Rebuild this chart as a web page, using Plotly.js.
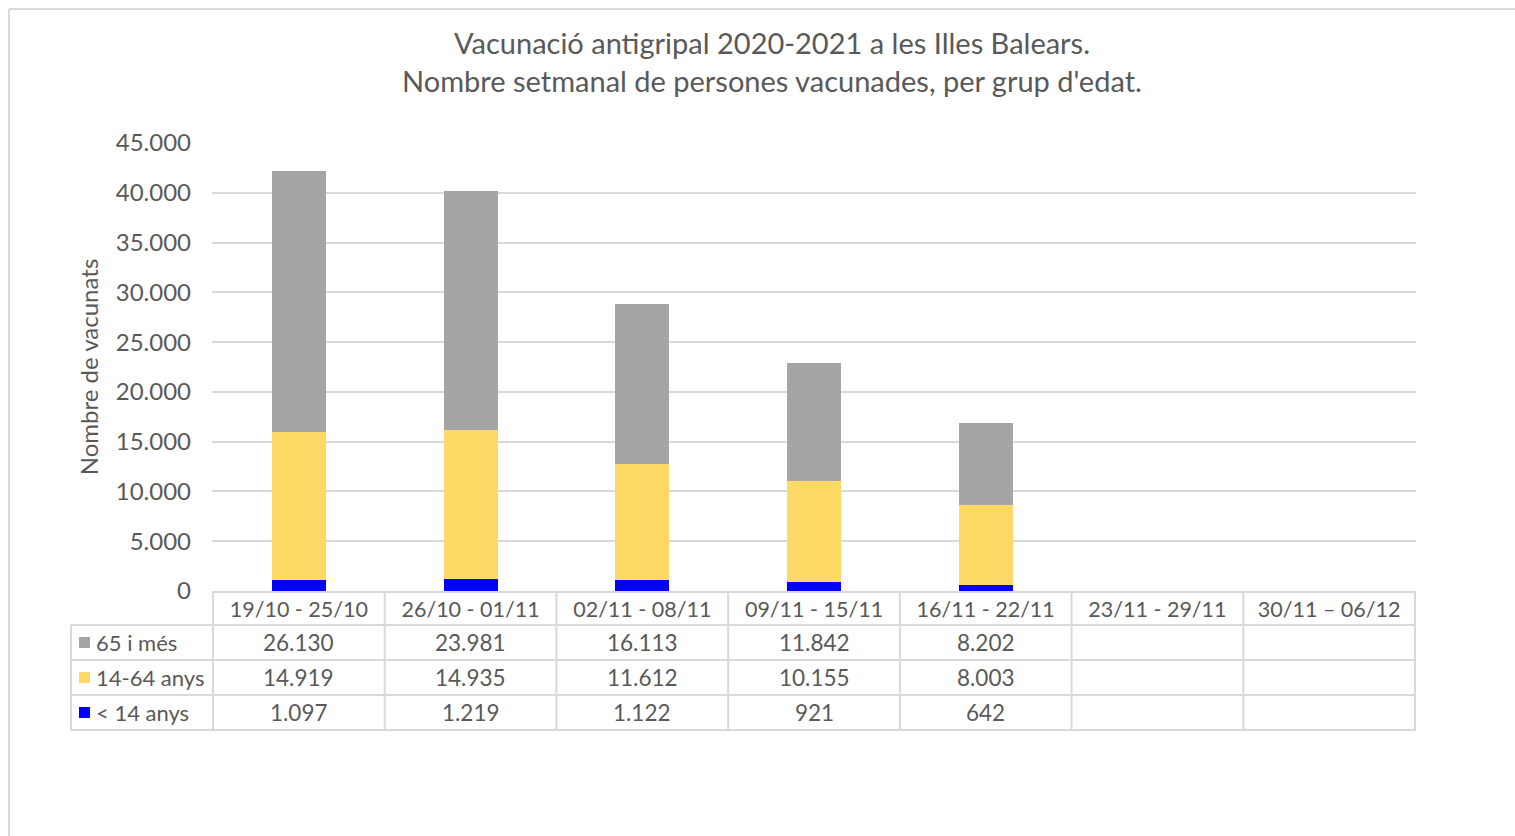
<!DOCTYPE html>
<html>
<head>
<meta charset="utf-8">
<script src="https://cdn.plot.ly/plotly-3.0.1.min.js"></script>
<style>
  body { margin: 0; background: #fff; }
  #chart { width: 1515px; height: 836px; }
</style>
</head>
<body>
<div id="chart"></div>
<script>
// weekly flu vaccinations, Illes Balears 2020-2021
var weeks = ['19/10 - 25/10', '26/10 - 01/11', '02/11 - 08/11', '09/11 - 15/11',
             '16/11 - 22/11', '23/11 - 29/11', '30/11 \u2013 06/12'];
var over65 = [26130, 23981, 16113, 11842, 8202, null, null];
var age14to64 = [14919, 14935, 11612, 10155, 8003, null, null];
var under14 = [1097, 1219, 1122, 921, 642, null, null];

var seriesNames = ['65 i més', '14-64 anys', '< 14 anys'];
var seriesColors = ['#a5a5a5', '#ffd966', '#0000ff'];
var seriesValues = [over65, age14to64, under14];

var txt = '#595959';
var lineCol = '#d9d9d9';
var fontFam = 'Lato, "Open Sans", sans-serif';

function fmt(v){
    if (v === null) return '';
    return String(v).replace(/\B(?=(\d{3})+(?!\d))/g, '.');
}

// bars, stacked bottom to top: <14, 14-64, 65+
var traces = [];
for (var s = seriesValues.length - 1; s >= 0; s--) {
    traces.push({
        x: weeks,
        y: seriesValues[s],
        name: seriesNames[s],
        type: 'bar',
        marker: {color: seriesColors[s]},
        hoverinfo: 'name+y'
    });
}

// data table under the plot (pixel rows converted to paper units)
var plotTop = 143, plotBottom = 591, plotLeft = 212, plotRight = 1416;
var ph = plotBottom - plotTop, pw = plotRight - plotLeft;
function py(Y){ return (plotBottom - Y) / ph; }
function px(X){ return (X - plotLeft) / pw; }

var rowTop = 625, rowH = 35, tableLeft = 71;
var shapes = [];
var annotations = [];

// horizontal lines of the table
for (var r = 0; r <= seriesNames.length; r++) {
    shapes.push({type: 'line', xref: 'paper', yref: 'paper',
        x0: px(tableLeft), x1: 1, y0: py(rowTop + r * rowH), y1: py(rowTop + r * rowH),
        line: {color: lineCol, width: 2}});
}
// vertical lines of the table
for (var i = 0; i <= weeks.length; i++) {
    shapes.push({type: 'line', xref: 'x', yref: 'paper',
        x0: i - 0.5, x1: i - 0.5, y0: 0, y1: py(rowTop + seriesNames.length * rowH),
        line: {color: lineCol, width: 2}});
}
shapes.push({type: 'line', xref: 'paper', yref: 'paper',
    x0: px(tableLeft), x1: px(tableLeft), y0: py(rowTop), y1: py(rowTop + seriesNames.length * rowH),
    line: {color: lineCol, width: 2}});

// legend keys + values
for (var s = 0; s < seriesNames.length; s++) {
    var yc = rowTop + s * rowH + rowH / 2;
    shapes.push({type: 'rect', xref: 'paper', yref: 'paper',
        x0: px(79), x1: px(90), y0: py(yc - 5.5), y1: py(yc + 5.5),
        fillcolor: seriesColors[s], line: {width: 0}});
    annotations.push({xref: 'paper', yref: 'paper', x: px(94), y: py(yc),
        xanchor: 'left', yanchor: 'middle', showarrow: false,
        text: seriesNames[s], font: {family: fontFam, size: 22, color: txt}});
    for (var i = 0; i < weeks.length; i++) {
        annotations.push({xref: 'x', yref: 'paper', x: weeks[i], y: py(yc),
            xanchor: 'center', yanchor: 'middle', showarrow: false,
            text: fmt(seriesValues[s][i]), font: {family: fontFam, size: 22.5, color: txt}});
    }
}

// outer frame of the picture
shapes.push({type: 'line', xref: 'paper', yref: 'paper',
    x0: px(9), x1: px(1520), y0: py(9), y1: py(9), line: {color: lineCol, width: 2}});
shapes.push({type: 'line', xref: 'paper', yref: 'paper',
    x0: px(9), x1: px(9), y0: py(9), y1: py(840), line: {color: lineCol, width: 2}});

var layout = {
    width: 1515,
    height: 836,
    paper_bgcolor: '#ffffff',
    plot_bgcolor: '#ffffff',
    barmode: 'stack',
    bargap: 0.686,
    showlegend: false,
    separators: ',.',
    margin: {l: plotLeft, r: 1515 - plotRight, t: plotTop, b: 836 - plotBottom},
    font: {family: fontFam, color: txt},
    title: {
        text: 'Vacunació antigripal 2020-2021 a les Illes Balears.<br>Nombre setmanal de persones vacunades, per grup d\'edat.',
        font: {family: fontFam, size: 29, color: txt},
        x: 772 / 1515, xanchor: 'center', xref: 'container',
        y: 1 - 54 / 836, yanchor: 'top', yref: 'container'
    },
    xaxis: {
        type: 'category',
        showgrid: false,
        showline: true, linecolor: lineCol, linewidth: 2,
        ticks: '',
        tickfont: {family: fontFam, size: 21.5, color: txt},
        ticklabelstandoff: -2,
        fixedrange: true
    },
    yaxis: {
        range: [0, 45000],
        dtick: 5000,
        tickformat: ',d',
        gridcolor: lineCol, gridwidth: 2,
        zeroline: false,
        ticks: '',
        ticklabelstandoff: 20,
        tickfont: {family: fontFam, size: 24, color: txt},
        title: {text: 'Nombre de vacunats', font: {family: fontFam, size: 24, color: txt}, standoff: 10},
        fixedrange: true
    },
    shapes: shapes,
    annotations: annotations
};

Plotly.newPlot('chart', traces, layout, {displayModeBar: false, staticPlot: true});
</script>
</body>
</html>
